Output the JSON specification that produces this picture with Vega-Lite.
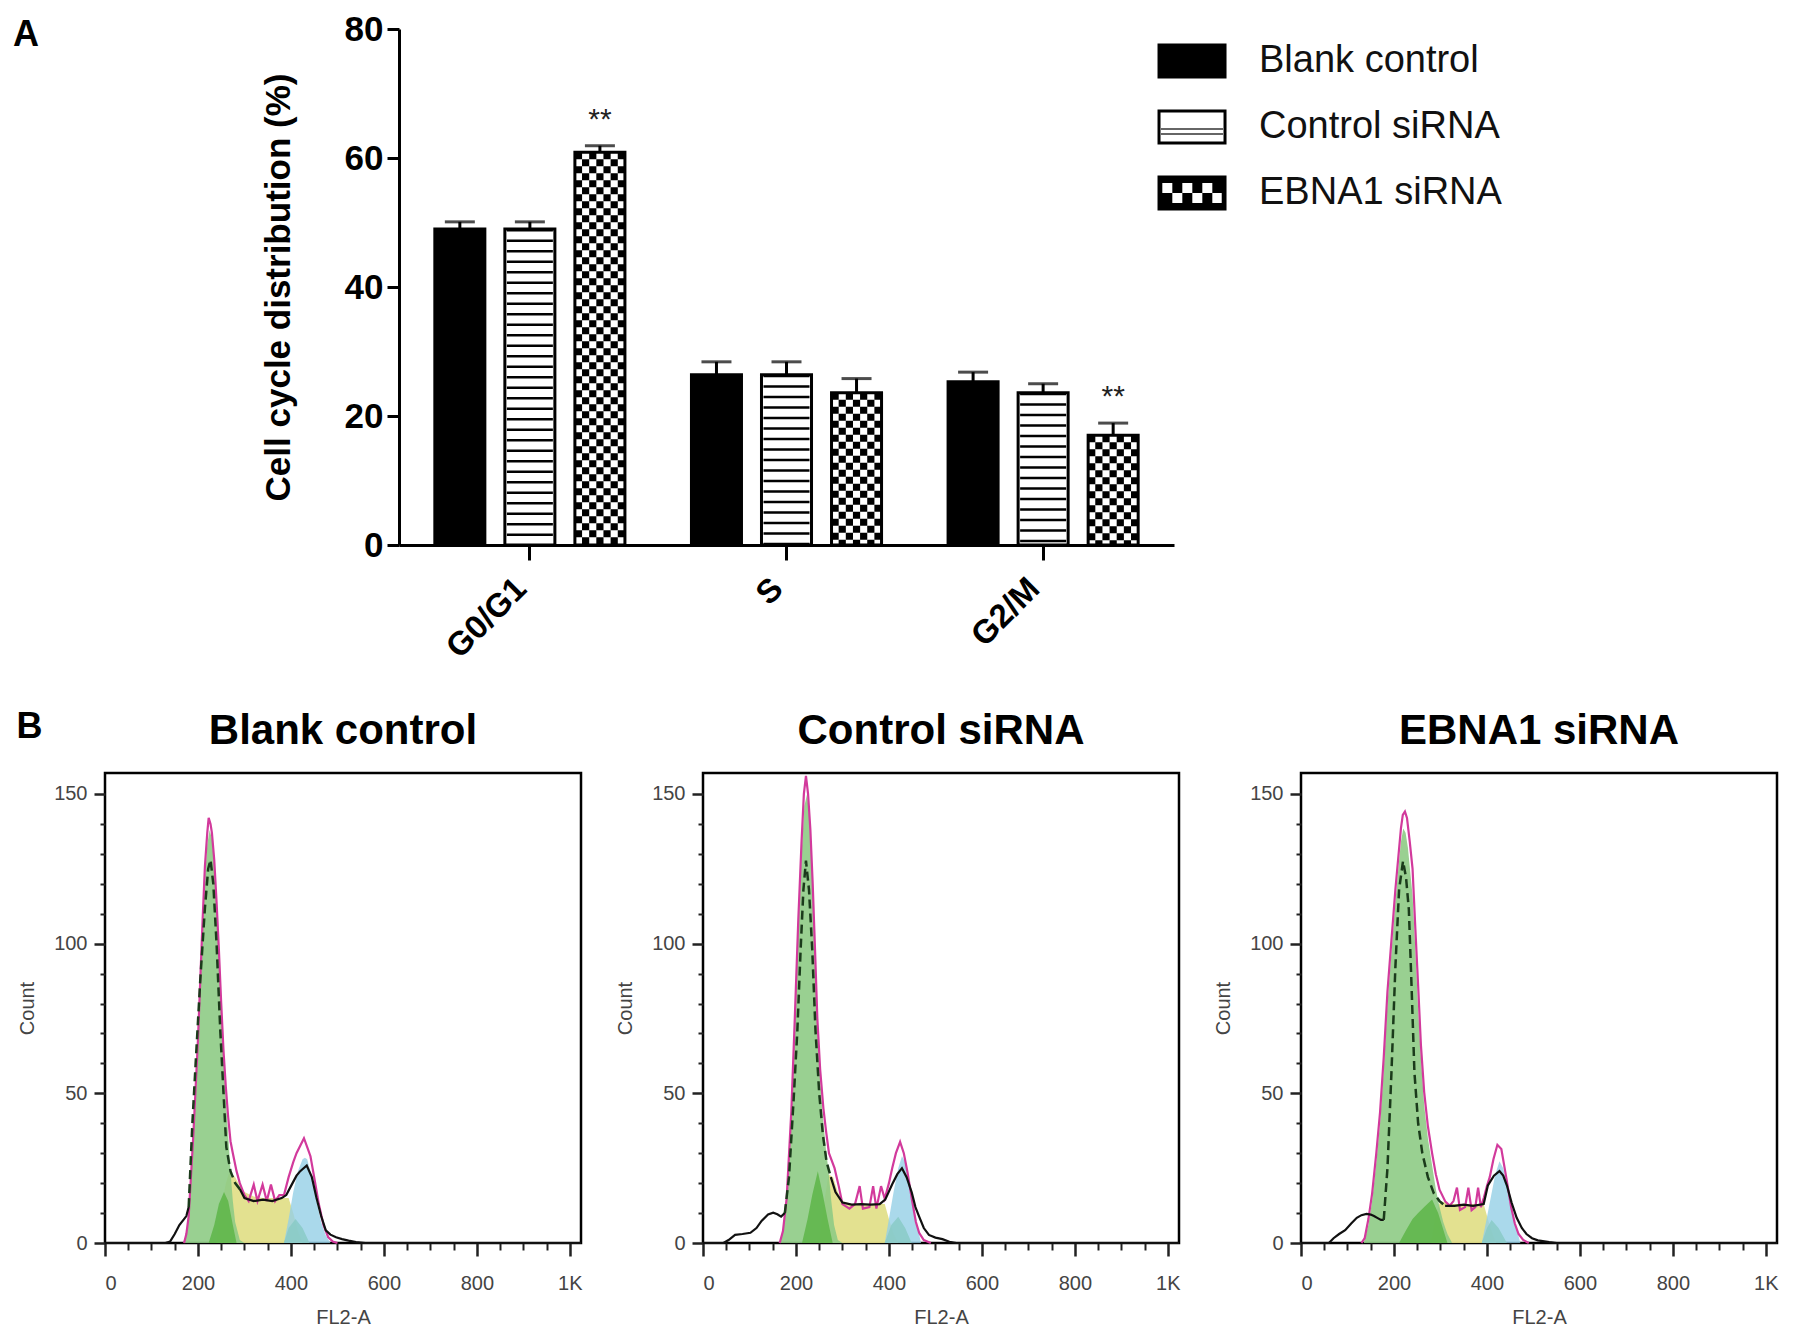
{
  "$schema": "https://vega.github.io/schema/vega-lite/v6.json",
  "background": "white",
  "padding": {"left": 13, "top": 12, "right": 5, "bottom": 5},
  "config": {
    "font": "Liberation Sans",
    "view": {"stroke": "black", "strokeWidth": 2.5},
    "axis": {"labelFont": "Liberation Sans", "titleFont": "Liberation Sans"}
  },
  "spacing": 44,
  "vconcat": [
    {
      "spacing": -50,
      "hconcat": [
        {
          "width": 206,
          "height": 10,
          "view": {"stroke": null},
          "title": {"text": "A", "anchor": "start", "frame": "group", "fontSize": 36, "fontWeight": "bold", "color": "black", "baseline": "alphabetic", "offset": 0, "dx": -92, "dy": 54},
          "data": {"values": [{}]},
          "mark": {"type": "text", "text": ""}
        },
        {
          "width": 775,
          "height": 516,
          "view": {"stroke": null},
          "layer": [
            {
              "data": {
                "values": [
                  {"phase": "G0/G1", "grp": "Blank control", "v": 49.0, "hi": 50.1, "sig": ""},
                  {"phase": "G0/G1", "grp": "Control siRNA", "v": 49.0, "hi": 50.1, "sig": ""},
                  {"phase": "G0/G1", "grp": "EBNA1 siRNA", "v": 60.9, "hi": 61.9, "sig": "**"},
                  {"phase": "S", "grp": "Blank control", "v": 26.4, "hi": 28.4, "sig": ""},
                  {"phase": "S", "grp": "Control siRNA", "v": 26.4, "hi": 28.4, "sig": ""},
                  {"phase": "S", "grp": "EBNA1 siRNA", "v": 23.6, "hi": 25.8, "sig": ""},
                  {"phase": "G2/M", "grp": "Blank control", "v": 25.3, "hi": 26.8, "sig": ""},
                  {"phase": "G2/M", "grp": "Control siRNA", "v": 23.6, "hi": 25.0, "sig": ""},
                  {"phase": "G2/M", "grp": "EBNA1 siRNA", "v": 17.0, "hi": 18.9, "sig": "**"}
                ]
              },
              "encoding": {
                "x": {
                  "field": "phase", "type": "nominal", "sort": ["G0/G1", "S", "G2/M"],
                  "scale": {"paddingInner": 0, "paddingOuter": 0.01},
                  "axis": {"title": null, "labelAngle": -45, "labelFontSize": 33, "labelFontWeight": "bold", "labelColor": "black", "labelPadding": 12, "labelOffset": -20, "tickSize": 15, "tickWidth": 3, "tickColor": "black", "domainColor": "black", "domainWidth": 3}
                },
                "y": {
                  "field": "v", "type": "quantitative",
                  "scale": {"domain": [0, 80], "nice": false},
                  "axis": {"title": "Cell cycle distribution (%)", "titleFontSize": 35, "titleFontWeight": "bold", "titleColor": "black", "titlePadding": 48, "values": [0, 20, 40, 60, 80], "labelFontSize": 35, "labelFontWeight": "bold", "labelColor": "black", "labelPadding": 4, "tickSize": 12, "tickWidth": 3, "tickColor": "black", "domainColor": "black", "domainWidth": 3, "grid": false}
                }
              },
              "layer": [
                {
                  "mark": {"type": "bar", "strokeWidth": 0},
                  "encoding": {
                    "xOffset": {"field": "grp", "type": "nominal", "scale": {"paddingInner": 0.2857, "paddingOuter": 0.475}},
                    "y2": {"datum": 0},
                    "color": {"field": "grp", "type": "nominal", "scale": {"range": ["black", "white", "white"]}, "legend": null}
                  }
                },
                {
                  "transform": [{"filter": "datum.grp == 'Control siRNA'"}],
                  "mark": {"type": "rule", "color": "black", "strokeWidth": 46, "strokeDash": [2.5, 8]},
                  "encoding": {"xOffset": {"field": "grp", "type": "nominal", "scale": {"paddingInner": 0.2857, "paddingOuter": 0.475}}, "y2": {"datum": 0}}
                },
                {
                  "transform": [{"filter": "datum.grp == 'EBNA1 siRNA'"}],
                  "mark": {"type": "rule", "color": "black", "strokeWidth": 7.2, "strokeDash": [7, 7], "strokeDashOffset": 0},
                  "encoding": {"x": {"field": "phase", "type": "nominal", "sort": ["G0/G1", "S", "G2/M"], "bandPosition": 0.6894}, "y2": {"datum": 0}}
                },
                {
                  "transform": [{"filter": "datum.grp == 'EBNA1 siRNA'"}],
                  "mark": {"type": "rule", "color": "black", "strokeWidth": 7.2, "strokeDash": [7, 7], "strokeDashOffset": 7},
                  "encoding": {"x": {"field": "phase", "type": "nominal", "sort": ["G0/G1", "S", "G2/M"], "bandPosition": 0.7172}, "y2": {"datum": 0}}
                },
                {
                  "transform": [{"filter": "datum.grp == 'EBNA1 siRNA'"}],
                  "mark": {"type": "rule", "color": "black", "strokeWidth": 7.2, "strokeDash": [7, 7], "strokeDashOffset": 0},
                  "encoding": {"x": {"field": "phase", "type": "nominal", "sort": ["G0/G1", "S", "G2/M"], "bandPosition": 0.7451}, "y2": {"datum": 0}}
                },
                {
                  "transform": [{"filter": "datum.grp == 'EBNA1 siRNA'"}],
                  "mark": {"type": "rule", "color": "black", "strokeWidth": 7.2, "strokeDash": [7, 7], "strokeDashOffset": 7},
                  "encoding": {"x": {"field": "phase", "type": "nominal", "sort": ["G0/G1", "S", "G2/M"], "bandPosition": 0.7729}, "y2": {"datum": 0}}
                },
                {
                  "transform": [{"filter": "datum.grp == 'EBNA1 siRNA'"}],
                  "mark": {"type": "rule", "color": "black", "strokeWidth": 7.2, "strokeDash": [7, 7], "strokeDashOffset": 0},
                  "encoding": {"x": {"field": "phase", "type": "nominal", "sort": ["G0/G1", "S", "G2/M"], "bandPosition": 0.8007}, "y2": {"datum": 0}}
                },
                {
                  "transform": [{"filter": "datum.grp == 'EBNA1 siRNA'"}],
                  "mark": {"type": "rule", "color": "black", "strokeWidth": 7.2, "strokeDash": [7, 7], "strokeDashOffset": 7},
                  "encoding": {"x": {"field": "phase", "type": "nominal", "sort": ["G0/G1", "S", "G2/M"], "bandPosition": 0.8286}, "y2": {"datum": 0}}
                },
                {
                  "transform": [{"filter": "datum.grp == 'EBNA1 siRNA'"}],
                  "mark": {"type": "rule", "color": "black", "strokeWidth": 7.2, "strokeDash": [7, 7], "strokeDashOffset": 0},
                  "encoding": {"x": {"field": "phase", "type": "nominal", "sort": ["G0/G1", "S", "G2/M"], "bandPosition": 0.8565}, "y2": {"datum": 0}}
                },
                {
                  "mark": {"type": "bar", "filled": false, "stroke": "black", "strokeWidth": 3},
                  "encoding": {"xOffset": {"field": "grp", "type": "nominal", "scale": {"paddingInner": 0.2857, "paddingOuter": 0.475}}, "y2": {"datum": 0}}
                },
                {
                  "mark": {"type": "rule", "color": "black", "strokeWidth": 3},
                  "encoding": {"xOffset": {"field": "grp", "type": "nominal", "scale": {"paddingInner": 0.2857, "paddingOuter": 0.475}}, "y2": {"field": "hi"}}
                },
                {
                  "mark": {"type": "tick", "orient": "horizontal", "size": 30, "thickness": 3, "color": "black"},
                  "encoding": {"xOffset": {"field": "grp", "type": "nominal", "scale": {"paddingInner": 0.2857, "paddingOuter": 0.475}}, "y": {"field": "hi", "type": "quantitative"}}
                },
                {
                  "transform": [{"filter": "datum.sig != ''"}],
                  "mark": {"type": "text", "fontSize": 30, "baseline": "middle", "dy": -26, "color": "#222"},
                  "encoding": {"xOffset": {"field": "grp", "type": "nominal", "scale": {"paddingInner": 0.2857, "paddingOuter": 0.475}}, "y": {"field": "hi", "type": "quantitative"}, "text": {"field": "sig"}}
                }
              ]
            },
            {
              "data": {"values": [{"label": "Blank control"}, {"label": "Control siRNA"}, {"label": "EBNA1 siRNA"}]},
              "encoding": {
                "y": {"field": "label", "type": "nominal", "axis": null, "scale": {"range": [0, 196], "paddingInner": 0.515, "paddingOuter": 0.2424}},
                "x": {"datum": 0, "type": "quantitative", "axis": null, "scale": {"domain": [-11.515, 0.227], "nice": false, "zero": false}}
              },
              "layer": [
                {
                  "mark": {"type": "bar", "stroke": "black", "strokeWidth": 3},
                  "encoding": {
                    "x2": {"datum": 1},
                    "color": {"condition": {"test": "datum.label == 'Control siRNA'", "value": "white"}, "value": "black"}
                  }
                },
                {
                  "transform": [{"filter": "datum.label == 'Control siRNA'"}],
                  "mark": {"type": "rule", "color": "#666", "strokeWidth": 2, "yOffset": 2},
                  "encoding": {"x": {"datum": 0.03, "type": "quantitative"}, "x2": {"datum": 0.97}}
                },
                {
                  "transform": [{"filter": "datum.label == 'Control siRNA'"}],
                  "mark": {"type": "rule", "color": "#666", "strokeWidth": 2, "yOffset": 7},
                  "encoding": {"x": {"datum": 0.03, "type": "quantitative"}, "x2": {"datum": 0.97}}
                },
                {
                  "transform": [{"filter": "datum.label == 'EBNA1 siRNA'"}],
                  "mark": {"type": "rule", "color": "white", "strokeWidth": 10, "strokeDash": [10, 10], "yOffset": -5},
                  "encoding": {"x": {"datum": 0.05, "type": "quantitative"}, "x2": {"datum": 0.95}}
                },
                {
                  "transform": [{"filter": "datum.label == 'EBNA1 siRNA'"}],
                  "mark": {"type": "rule", "color": "white", "strokeWidth": 10, "strokeDash": [10, 10], "strokeDashOffset": 10, "yOffset": 5},
                  "encoding": {"x": {"datum": 0.05, "type": "quantitative"}, "x2": {"datum": 0.95}}
                },
                {
                  "mark": {"type": "text", "align": "left", "baseline": "middle", "dx": 34, "fontSize": 38, "color": "#111"},
                  "encoding": {"x": {"datum": 1, "type": "quantitative"}, "text": {"field": "label"}}
                }
              ]
            }
          ],
          "resolve": {"scale": {"x": "independent", "y": "independent"}, "axis": {"x": "independent", "y": "independent"}}
        }
      ]
    },
    {
      "title": {"text": "B", "anchor": "start", "fontSize": 36, "fontWeight": "bold", "color": "black", "baseline": "alphabetic", "offset": 0, "dx": 0, "dy": 64},
      "data": {
        "values": [
          {"p":1,"s":"g1","x":170,"y":0},{"p":1,"s":"g1","x":175,"y":3},{"p":1,"s":"g1","x":180,"y":8},{"p":1,"s":"g1","x":190,"y":33},{"p":1,"s":"g1","x":200,"y":64},{"p":1,"s":"g1","x":210,"y":104},{"p":1,"s":"g1","x":215,"y":122},{"p":1,"s":"g1","x":220,"y":133},{"p":1,"s":"g1","x":225,"y":138},{"p":1,"s":"g1","x":230,"y":135},{"p":1,"s":"g1","x":235,"y":126},{"p":1,"s":"g1","x":240,"y":112},{"p":1,"s":"g1","x":245,"y":96},{"p":1,"s":"g1","x":250,"y":78},{"p":1,"s":"g1","x":255,"y":62},{"p":1,"s":"g1","x":260,"y":48},{"p":1,"s":"g1","x":265,"y":36},{"p":1,"s":"g1","x":270,"y":24},{"p":1,"s":"g1","x":275,"y":14},{"p":1,"s":"g1","x":280,"y":7},{"p":1,"s":"g1","x":290,"y":1},{"p":1,"s":"g1","x":300,"y":0},
          {"p":1,"s":"ag","x":223,"y":0},{"p":1,"s":"ag","x":235,"y":6},{"p":1,"s":"ag","x":245,"y":13},{"p":1,"s":"ag","x":256,"y":17},{"p":1,"s":"ag","x":265,"y":14},{"p":1,"s":"ag","x":275,"y":6},{"p":1,"s":"ag","x":283,"y":0},{"p":1,"s":"ag","x":385,"y":0},{"p":1,"s":"ag","x":395,"y":5},{"p":1,"s":"ag","x":410,"y":8},{"p":1,"s":"ag","x":425,"y":5},{"p":1,"s":"ag","x":440,"y":0},
          {"p":1,"s":"s","x":240,"y":0},{"p":1,"s":"s","x":250,"y":12},{"p":1,"s":"s","x":260,"y":20},{"p":1,"s":"s","x":268,"y":24},{"p":1,"s":"s","x":280,"y":22},{"p":1,"s":"s","x":290,"y":19},{"p":1,"s":"s","x":300,"y":17},{"p":1,"s":"s","x":320,"y":15.5},{"p":1,"s":"s","x":340,"y":15},{"p":1,"s":"s","x":360,"y":15},{"p":1,"s":"s","x":380,"y":15},{"p":1,"s":"s","x":395,"y":15},{"p":1,"s":"s","x":405,"y":10},{"p":1,"s":"s","x":415,"y":4},{"p":1,"s":"s","x":425,"y":0},
          {"p":1,"s":"g2","x":385,"y":0},{"p":1,"s":"g2","x":395,"y":8},{"p":1,"s":"g2","x":405,"y":17},{"p":1,"s":"g2","x":415,"y":24},{"p":1,"s":"g2","x":425,"y":28},{"p":1,"s":"g2","x":430,"y":28.5},{"p":1,"s":"g2","x":435,"y":28},{"p":1,"s":"g2","x":445,"y":22},{"p":1,"s":"g2","x":455,"y":14},{"p":1,"s":"g2","x":465,"y":7},{"p":1,"s":"g2","x":475,"y":2.5},{"p":1,"s":"g2","x":485,"y":0},
          {"p":1,"s":"fit","x":170,"y":0},{"p":1,"s":"fit","x":175,"y":3},{"p":1,"s":"fit","x":180,"y":9},{"p":1,"s":"fit","x":190,"y":36},{"p":1,"s":"fit","x":200,"y":68},{"p":1,"s":"fit","x":210,"y":108},{"p":1,"s":"fit","x":215,"y":126},{"p":1,"s":"fit","x":220,"y":137},{"p":1,"s":"fit","x":223,"y":142},{"p":1,"s":"fit","x":227,"y":140},{"p":1,"s":"fit","x":230,"y":137},{"p":1,"s":"fit","x":235,"y":128},{"p":1,"s":"fit","x":240,"y":114},{"p":1,"s":"fit","x":245,"y":98},{"p":1,"s":"fit","x":250,"y":80},{"p":1,"s":"fit","x":255,"y":64},{"p":1,"s":"fit","x":260,"y":52},{"p":1,"s":"fit","x":265,"y":42},{"p":1,"s":"fit","x":270,"y":34},{"p":1,"s":"fit","x":275,"y":30},{"p":1,"s":"fit","x":283,"y":24},{"p":1,"s":"fit","x":290,"y":20},{"p":1,"s":"fit","x":300,"y":16},{"p":1,"s":"fit","x":309,"y":14},{"p":1,"s":"fit","x":320,"y":19.5},{"p":1,"s":"fit","x":328,"y":14},{"p":1,"s":"fit","x":339,"y":19.5},{"p":1,"s":"fit","x":348,"y":14},{"p":1,"s":"fit","x":357,"y":19.5},{"p":1,"s":"fit","x":366,"y":14},{"p":1,"s":"fit","x":375,"y":16},{"p":1,"s":"fit","x":385,"y":16},{"p":1,"s":"fit","x":395,"y":22},{"p":1,"s":"fit","x":405,"y":27},{"p":1,"s":"fit","x":412,"y":30},{"p":1,"s":"fit","x":420,"y":32.5},{"p":1,"s":"fit","x":428,"y":35},{"p":1,"s":"fit","x":435,"y":32},{"p":1,"s":"fit","x":442,"y":29},{"p":1,"s":"fit","x":450,"y":22},{"p":1,"s":"fit","x":460,"y":13},{"p":1,"s":"fit","x":470,"y":6},{"p":1,"s":"fit","x":480,"y":2},{"p":1,"s":"fit","x":490,"y":0.5},{"p":1,"s":"fit","x":500,"y":0},
          {"p":1,"s":"rawL","x":0,"y":0},{"p":1,"s":"rawL","x":130,"y":0},{"p":1,"s":"rawL","x":140,"y":0.5},{"p":1,"s":"rawL","x":150,"y":3},{"p":1,"s":"rawL","x":160,"y":6},{"p":1,"s":"rawL","x":170,"y":8},{"p":1,"s":"rawL","x":175,"y":9},{"p":1,"s":"rawL","x":180,"y":12},
          {"p":1,"s":"rawd","x":180,"y":12},{"p":1,"s":"rawd","x":188,"y":40},{"p":1,"s":"rawd","x":195,"y":60},{"p":1,"s":"rawd","x":205,"y":88},{"p":1,"s":"rawd","x":215,"y":112},{"p":1,"s":"rawd","x":222,"y":125},{"p":1,"s":"rawd","x":227,"y":128},{"p":1,"s":"rawd","x":233,"y":120},{"p":1,"s":"rawd","x":240,"y":100},{"p":1,"s":"rawd","x":248,"y":71},{"p":1,"s":"rawd","x":255,"y":50},{"p":1,"s":"rawd","x":261,"y":32},{"p":1,"s":"rawd","x":270,"y":24},{"p":1,"s":"rawd","x":280,"y":20},{"p":1,"s":"rawd","x":290,"y":18},
          {"p":1,"s":"raw","x":290,"y":18},{"p":1,"s":"raw","x":300,"y":15},{"p":1,"s":"raw","x":320,"y":14},{"p":1,"s":"raw","x":340,"y":14.5},{"p":1,"s":"raw","x":360,"y":14},{"p":1,"s":"raw","x":380,"y":15},{"p":1,"s":"raw","x":390,"y":16},{"p":1,"s":"raw","x":400,"y":19},{"p":1,"s":"raw","x":412,"y":22.5},{"p":1,"s":"raw","x":420,"y":24},{"p":1,"s":"raw","x":434,"y":25.9},{"p":1,"s":"raw","x":445,"y":22},{"p":1,"s":"raw","x":455,"y":15},{"p":1,"s":"raw","x":465,"y":9},{"p":1,"s":"raw","x":475,"y":4.2},{"p":1,"s":"raw","x":485,"y":2.8},{"p":1,"s":"raw","x":497,"y":1.9},{"p":1,"s":"raw","x":510,"y":1.3},{"p":1,"s":"raw","x":524,"y":0.8},{"p":1,"s":"raw","x":540,"y":0.3},{"p":1,"s":"raw","x":560,"y":0},{"p":1,"s":"raw","x":1024,"y":0},

          {"p":2,"s":"g1","x":165,"y":0},{"p":2,"s":"g1","x":172,"y":4},{"p":2,"s":"g1","x":180,"y":14},{"p":2,"s":"g1","x":190,"y":42},{"p":2,"s":"g1","x":197,"y":71},{"p":2,"s":"g1","x":205,"y":105},{"p":2,"s":"g1","x":212,"y":130},{"p":2,"s":"g1","x":218,"y":146},{"p":2,"s":"g1","x":224,"y":150},{"p":2,"s":"g1","x":230,"y":140},{"p":2,"s":"g1","x":236,"y":118},{"p":2,"s":"g1","x":241,"y":95},{"p":2,"s":"g1","x":246,"y":71},{"p":2,"s":"g1","x":252,"y":55},{"p":2,"s":"g1","x":258,"y":42},{"p":2,"s":"g1","x":264,"y":32},{"p":2,"s":"g1","x":270,"y":24},{"p":2,"s":"g1","x":276,"y":14},{"p":2,"s":"g1","x":282,"y":6},{"p":2,"s":"g1","x":290,"y":1},{"p":2,"s":"g1","x":300,"y":0},
          {"p":2,"s":"ag","x":213,"y":0},{"p":2,"s":"ag","x":225,"y":8},{"p":2,"s":"ag","x":235,"y":16},{"p":2,"s":"ag","x":247,"y":24},{"p":2,"s":"ag","x":258,"y":16},{"p":2,"s":"ag","x":268,"y":8},{"p":2,"s":"ag","x":279,"y":0},{"p":2,"s":"ag","x":391,"y":0},{"p":2,"s":"ag","x":405,"y":6},{"p":2,"s":"ag","x":420,"y":8.8},{"p":2,"s":"ag","x":435,"y":5},{"p":2,"s":"ag","x":449,"y":0},
          {"p":2,"s":"s","x":250,"y":0},{"p":2,"s":"s","x":262,"y":15},{"p":2,"s":"s","x":270,"y":23},{"p":2,"s":"s","x":280,"y":22},{"p":2,"s":"s","x":290,"y":17},{"p":2,"s":"s","x":300,"y":14},{"p":2,"s":"s","x":320,"y":13},{"p":2,"s":"s","x":340,"y":13},{"p":2,"s":"s","x":360,"y":13},{"p":2,"s":"s","x":380,"y":13},{"p":2,"s":"s","x":391,"y":13},{"p":2,"s":"s","x":400,"y":8},{"p":2,"s":"s","x":410,"y":3},{"p":2,"s":"s","x":420,"y":0},
          {"p":2,"s":"g2","x":391,"y":0},{"p":2,"s":"g2","x":400,"y":8},{"p":2,"s":"g2","x":410,"y":17},{"p":2,"s":"g2","x":420,"y":25},{"p":2,"s":"g2","x":428,"y":29},{"p":2,"s":"g2","x":435,"y":27},{"p":2,"s":"g2","x":445,"y":20},{"p":2,"s":"g2","x":455,"y":11},{"p":2,"s":"g2","x":462,"y":5},{"p":2,"s":"g2","x":469,"y":0},
          {"p":2,"s":"fit","x":165,"y":0},{"p":2,"s":"fit","x":172,"y":4},{"p":2,"s":"fit","x":180,"y":15},{"p":2,"s":"fit","x":190,"y":44},{"p":2,"s":"fit","x":197,"y":73},{"p":2,"s":"fit","x":205,"y":108},{"p":2,"s":"fit","x":212,"y":134},{"p":2,"s":"fit","x":217,"y":150},{"p":2,"s":"fit","x":221.5,"y":156},{"p":2,"s":"fit","x":226,"y":150},{"p":2,"s":"fit","x":231,"y":138},{"p":2,"s":"fit","x":236,"y":120},{"p":2,"s":"fit","x":241,"y":98},{"p":2,"s":"fit","x":246,"y":75},{"p":2,"s":"fit","x":252,"y":58},{"p":2,"s":"fit","x":259,"y":45},{"p":2,"s":"fit","x":265,"y":37},{"p":2,"s":"fit","x":271,"y":30},{"p":2,"s":"fit","x":283,"y":25},{"p":2,"s":"fit","x":292,"y":19},{"p":2,"s":"fit","x":300,"y":13},{"p":2,"s":"fit","x":315,"y":11.5},{"p":2,"s":"fit","x":327,"y":13},{"p":2,"s":"fit","x":337,"y":19},{"p":2,"s":"fit","x":344,"y":11.5},{"p":2,"s":"fit","x":358,"y":12},{"p":2,"s":"fit","x":366,"y":19},{"p":2,"s":"fit","x":373,"y":11.5},{"p":2,"s":"fit","x":383,"y":19},{"p":2,"s":"fit","x":391,"y":14.8},{"p":2,"s":"fit","x":400,"y":20},{"p":2,"s":"fit","x":407,"y":25},{"p":2,"s":"fit","x":415,"y":30},{"p":2,"s":"fit","x":424,"y":33.8},{"p":2,"s":"fit","x":432,"y":30},{"p":2,"s":"fit","x":440,"y":23.6},{"p":2,"s":"fit","x":450,"y":14},{"p":2,"s":"fit","x":458,"y":7},{"p":2,"s":"fit","x":465,"y":3.4},{"p":2,"s":"fit","x":475,"y":1},{"p":2,"s":"fit","x":490,"y":0},
          {"p":2,"s":"rawL","x":0,"y":0},{"p":2,"s":"rawL","x":44,"y":0},{"p":2,"s":"rawL","x":55,"y":1},{"p":2,"s":"rawL","x":69,"y":2.7},{"p":2,"s":"rawL","x":85,"y":3},{"p":2,"s":"rawL","x":102,"y":3.4},{"p":2,"s":"rawL","x":115,"y":5},{"p":2,"s":"rawL","x":126,"y":7.4},{"p":2,"s":"rawL","x":140,"y":9.5},{"p":2,"s":"rawL","x":151,"y":10.1},{"p":2,"s":"rawL","x":160,"y":9.6},{"p":2,"s":"rawL","x":168,"y":8.8},{"p":2,"s":"rawL","x":176,"y":10},
          {"p":2,"s":"rawd","x":176,"y":10},{"p":2,"s":"rawd","x":185,"y":22},{"p":2,"s":"rawd","x":195,"y":48},{"p":2,"s":"rawd","x":203,"y":71},{"p":2,"s":"rawd","x":210,"y":98},{"p":2,"s":"rawd","x":216,"y":118},{"p":2,"s":"rawd","x":221.5,"y":127.7},{"p":2,"s":"rawd","x":228,"y":118},{"p":2,"s":"rawd","x":235,"y":98},{"p":2,"s":"rawd","x":242,"y":71},{"p":2,"s":"rawd","x":250,"y":50},{"p":2,"s":"rawd","x":258,"y":36},{"p":2,"s":"rawd","x":266,"y":27},{"p":2,"s":"rawd","x":275,"y":22},
          {"p":2,"s":"raw","x":275,"y":22},{"p":2,"s":"raw","x":285,"y":17},{"p":2,"s":"raw","x":300,"y":13.5},{"p":2,"s":"raw","x":320,"y":12.8},{"p":2,"s":"raw","x":340,"y":13},{"p":2,"s":"raw","x":360,"y":12.8},{"p":2,"s":"raw","x":380,"y":13},{"p":2,"s":"raw","x":392,"y":14.5},{"p":2,"s":"raw","x":407,"y":19.6},{"p":2,"s":"raw","x":418,"y":23},{"p":2,"s":"raw","x":428,"y":25},{"p":2,"s":"raw","x":438,"y":22},{"p":2,"s":"raw","x":449,"y":16.9},{"p":2,"s":"raw","x":457,"y":12},{"p":2,"s":"raw","x":465,"y":8.8},{"p":2,"s":"raw","x":475,"y":5},{"p":2,"s":"raw","x":486,"y":2.7},{"p":2,"s":"raw","x":500,"y":1.8},{"p":2,"s":"raw","x":515,"y":1.3},{"p":2,"s":"raw","x":530,"y":0.4},{"p":2,"s":"raw","x":545,"y":0},{"p":2,"s":"raw","x":1024,"y":0},

          {"p":3,"s":"g1","x":135,"y":0},{"p":3,"s":"g1","x":145,"y":6},{"p":3,"s":"g1","x":153,"y":14},{"p":3,"s":"g1","x":162,"y":27},{"p":3,"s":"g1","x":170,"y":40},{"p":3,"s":"g1","x":178,"y":58},{"p":3,"s":"g1","x":186,"y":80},{"p":3,"s":"g1","x":195,"y":98},{"p":3,"s":"g1","x":203,"y":114},{"p":3,"s":"g1","x":210,"y":126},{"p":3,"s":"g1","x":215,"y":134},{"p":3,"s":"g1","x":220,"y":138.5},{"p":3,"s":"g1","x":225,"y":137},{"p":3,"s":"g1","x":230,"y":132},{"p":3,"s":"g1","x":235,"y":124},{"p":3,"s":"g1","x":240,"y":116},{"p":3,"s":"g1","x":246,"y":98},{"p":3,"s":"g1","x":252,"y":78},{"p":3,"s":"g1","x":258,"y":62},{"p":3,"s":"g1","x":265,"y":46},{"p":3,"s":"g1","x":273,"y":35},{"p":3,"s":"g1","x":282,"y":26},{"p":3,"s":"g1","x":290,"y":18},{"p":3,"s":"g1","x":298,"y":12},{"p":3,"s":"g1","x":306,"y":7},{"p":3,"s":"g1","x":315,"y":3},{"p":3,"s":"g1","x":325,"y":0},
          {"p":3,"s":"ag","x":211,"y":0},{"p":3,"s":"ag","x":225,"y":4},{"p":3,"s":"ag","x":240,"y":8},{"p":3,"s":"ag","x":252,"y":10},{"p":3,"s":"ag","x":265,"y":12},{"p":3,"s":"ag","x":282,"y":14.5},{"p":3,"s":"ag","x":295,"y":10},{"p":3,"s":"ag","x":305,"y":5},{"p":3,"s":"ag","x":315,"y":0},{"p":3,"s":"ag","x":389,"y":0},{"p":3,"s":"ag","x":400,"y":5},{"p":3,"s":"ag","x":410,"y":7.7},{"p":3,"s":"ag","x":425,"y":5},{"p":3,"s":"ag","x":443,"y":0},
          {"p":3,"s":"s","x":280,"y":0},{"p":3,"s":"s","x":290,"y":10},{"p":3,"s":"s","x":300,"y":14},{"p":3,"s":"s","x":320,"y":13},{"p":3,"s":"s","x":340,"y":13},{"p":3,"s":"s","x":360,"y":13},{"p":3,"s":"s","x":380,"y":13},{"p":3,"s":"s","x":393,"y":13},{"p":3,"s":"s","x":402,"y":8},{"p":3,"s":"s","x":412,"y":3},{"p":3,"s":"s","x":420,"y":0},
          {"p":3,"s":"g2","x":389,"y":0},{"p":3,"s":"g2","x":398,"y":7},{"p":3,"s":"g2","x":408,"y":15},{"p":3,"s":"g2","x":418,"y":23},{"p":3,"s":"g2","x":427,"y":27.3},{"p":3,"s":"g2","x":435,"y":25},{"p":3,"s":"g2","x":445,"y":18},{"p":3,"s":"g2","x":455,"y":10},{"p":3,"s":"g2","x":463,"y":5},{"p":3,"s":"g2","x":472,"y":0},
          {"p":3,"s":"fit","x":130,"y":0},{"p":3,"s":"fit","x":137,"y":1.6},{"p":3,"s":"fit","x":145,"y":8},{"p":3,"s":"fit","x":153,"y":16.5},{"p":3,"s":"fit","x":162,"y":30},{"p":3,"s":"fit","x":170,"y":43.6},{"p":3,"s":"fit","x":178,"y":62},{"p":3,"s":"fit","x":186,"y":84},{"p":3,"s":"fit","x":195,"y":102},{"p":3,"s":"fit","x":203,"y":118},{"p":3,"s":"fit","x":210,"y":130},{"p":3,"s":"fit","x":215,"y":138.5},{"p":3,"s":"fit","x":219,"y":143},{"p":3,"s":"fit","x":223.6,"y":144.1},{"p":3,"s":"fit","x":228,"y":142},{"p":3,"s":"fit","x":234,"y":134},{"p":3,"s":"fit","x":240,"y":125},{"p":3,"s":"fit","x":246,"y":105},{"p":3,"s":"fit","x":252.6,"y":84},{"p":3,"s":"fit","x":258,"y":66},{"p":3,"s":"fit","x":265,"y":50.4},{"p":3,"s":"fit","x":273,"y":39},{"p":3,"s":"fit","x":282,"y":30},{"p":3,"s":"fit","x":290,"y":23},{"p":3,"s":"fit","x":298,"y":17.8},{"p":3,"s":"fit","x":310.6,"y":13.8},{"p":3,"s":"fit","x":320,"y":12.5},{"p":3,"s":"fit","x":328,"y":14},{"p":3,"s":"fit","x":335.5,"y":18.5},{"p":3,"s":"fit","x":342,"y":11},{"p":3,"s":"fit","x":353,"y":12},{"p":3,"s":"fit","x":360,"y":18.5},{"p":3,"s":"fit","x":367,"y":11},{"p":3,"s":"fit","x":375,"y":12},{"p":3,"s":"fit","x":381,"y":18.5},{"p":3,"s":"fit","x":387,"y":12},{"p":3,"s":"fit","x":393.5,"y":15.2},{"p":3,"s":"fit","x":400,"y":19},{"p":3,"s":"fit","x":406,"y":22},{"p":3,"s":"fit","x":414,"y":28},{"p":3,"s":"fit","x":422.5,"y":32.8},{"p":3,"s":"fit","x":431,"y":31.4},{"p":3,"s":"fit","x":437,"y":26},{"p":3,"s":"fit","x":443,"y":20.6},{"p":3,"s":"fit","x":452,"y":12},{"p":3,"s":"fit","x":460,"y":6.5},{"p":3,"s":"fit","x":468,"y":3},{"p":3,"s":"fit","x":478,"y":1},{"p":3,"s":"fit","x":490,"y":0},
          {"p":3,"s":"rawL","x":0,"y":0},{"p":3,"s":"rawL","x":60,"y":0},{"p":3,"s":"rawL","x":70,"y":1.6},{"p":3,"s":"rawL","x":82,"y":3},{"p":3,"s":"rawL","x":95,"y":4.3},{"p":3,"s":"rawL","x":108,"y":6.5},{"p":3,"s":"rawL","x":120,"y":8.4},{"p":3,"s":"rawL","x":130,"y":9.3},{"p":3,"s":"rawL","x":141,"y":9.7},{"p":3,"s":"rawL","x":150,"y":9.5},{"p":3,"s":"rawL","x":157,"y":9},{"p":3,"s":"rawL","x":165,"y":8.3},{"p":3,"s":"rawL","x":172,"y":7.7},{"p":3,"s":"rawL","x":178,"y":7.7},
          {"p":3,"s":"rawd","x":178,"y":7.7},{"p":3,"s":"rawd","x":186,"y":25},{"p":3,"s":"rawd","x":194.6,"y":57},{"p":3,"s":"rawd","x":203,"y":92},{"p":3,"s":"rawd","x":211,"y":118},{"p":3,"s":"rawd","x":219.5,"y":127.6},{"p":3,"s":"rawd","x":226,"y":122},{"p":3,"s":"rawd","x":232,"y":111.4},{"p":3,"s":"rawd","x":238,"y":85},{"p":3,"s":"rawd","x":244,"y":57},{"p":3,"s":"rawd","x":252,"y":40},{"p":3,"s":"rawd","x":261,"y":30},{"p":3,"s":"rawd","x":273,"y":22},{"p":3,"s":"rawd","x":286,"y":16.5},{"p":3,"s":"rawd","x":298,"y":14},{"p":3,"s":"rawd","x":310,"y":12.4},
          {"p":3,"s":"raw","x":310,"y":12.4},{"p":3,"s":"raw","x":330,"y":12.4},{"p":3,"s":"raw","x":350,"y":12.8},{"p":3,"s":"raw","x":370,"y":12.4},{"p":3,"s":"raw","x":393,"y":13},{"p":3,"s":"raw","x":402,"y":19.2},{"p":3,"s":"raw","x":415,"y":22.5},{"p":3,"s":"raw","x":427,"y":24},{"p":3,"s":"raw","x":435,"y":22.5},{"p":3,"s":"raw","x":443,"y":19.2},{"p":3,"s":"raw","x":453,"y":13.5},{"p":3,"s":"raw","x":464,"y":8.4},{"p":3,"s":"raw","x":475,"y":5},{"p":3,"s":"raw","x":485,"y":3},{"p":3,"s":"raw","x":497,"y":1.6},{"p":3,"s":"raw","x":509.5,"y":0.9},{"p":3,"s":"raw","x":534,"y":0.3},{"p":3,"s":"raw","x":550,"y":0},{"p":3,"s":"raw","x":1024,"y":0}
        ]
      },
      "facet": {
        "column": {
          "field": "p", "type": "ordinal",
          "header": {"title": null, "labelFontSize": 42, "labelFontWeight": "bold", "labelColor": "black", "labelPadding": 17, "labelExpr": "datum.value == 1 ? 'Blank control' : datum.value == 2 ? 'Control siRNA' : 'EBNA1 siRNA'"}
        }
      },
      "spacing": {"column": 27},
      "resolve": {"axis": {"x": "independent", "y": "independent"}},
      "spec": {
        "width": 476,
        "height": 470,
        "layer": [
          {
            "encoding": {
              "x": {
                "field": "x", "type": "quantitative", "scale": {"domain": [0, 1024], "nice": false},
                "axis": {"title": "FL2-A", "values": [0, 200, 400, 600, 800, 1000], "labelExpr": "datum.value == 1000 ? '1K' : datum.label", "labelFontSize": 20, "labelColor": "#444", "labelPadding": 17, "tickSize": 13, "tickWidth": 2.5, "tickColor": "#222", "domain": false, "grid": false, "titleFontSize": 20, "titleColor": "#444", "titleFontWeight": "normal", "titlePadding": 14}
              },
              "y": {
                "field": "y", "type": "quantitative", "scale": {"domain": [0, 157], "nice": false},
                "axis": {"title": "Count", "values": [0, 50, 100, 150], "labelFontSize": 20, "labelColor": "#444", "labelPadding": 7, "tickSize": 11, "tickWidth": 2.5, "tickColor": "#222", "domain": false, "grid": false, "titleFontSize": 20, "titleColor": "#444", "titleFontWeight": "normal", "titlePadding": 16}
              }
            },
            "layer": [
              {"transform": [{"filter": "datum.s == 's'"}], "mark": {"type": "area", "color": "#e2df8a", "opacity": 0.95}},
              {"transform": [{"filter": "datum.s == 'g1'"}], "mark": {"type": "area", "color": "#8ecb85", "opacity": 0.9}},
              {"transform": [{"filter": "datum.s == 'ag'"}], "mark": {"type": "area", "color": "#5db548", "opacity": 0.85}},
              {"transform": [{"filter": "datum.s == 'g2'"}], "mark": {"type": "area", "color": "#95cfe6", "opacity": 0.8}},
              {"transform": [{"filter": "datum.s == 'fit'"}], "mark": {"type": "line", "color": "#d23a9c", "strokeWidth": 2.2}},
              {"transform": [{"filter": "datum.s == 'rawL' || datum.s == 'raw'"}], "mark": {"type": "line", "color": "#111", "strokeWidth": 2.2}, "encoding": {"detail": {"field": "s"}}},
              {"transform": [{"filter": "datum.s == 'rawd'"}], "mark": {"type": "line", "color": "#1b3b1b", "strokeWidth": 2.5, "strokeDash": [9, 5]}}
            ]
          },
          {
            "transform": [{"filter": "datum.s == 'rawL'"}],
            "mark": {"type": "point", "opacity": 0},
            "encoding": {
              "x": {
                "field": "x", "type": "quantitative", "scale": {"domain": [0, 1024], "nice": false},
                "axis": {"orient": "bottom", "title": null, "labels": false, "domain": false, "grid": false, "values": [50, 100, 150, 250, 300, 350, 450, 500, 550, 650, 700, 750, 850, 900, 950], "tickSize": 7, "tickWidth": 2, "tickColor": "#222"}
              },
              "y": {
                "field": "y", "type": "quantitative", "scale": {"domain": [0, 157], "nice": false},
                "axis": {"orient": "left", "title": null, "labels": false, "domain": false, "grid": false, "values": [10, 20, 30, 40, 60, 70, 80, 90, 110, 120, 130, 140], "tickSize": 5, "tickWidth": 2, "tickColor": "#222"}
              }
            }
          }
        ],
        "resolve": {"axis": {"x": "independent", "y": "independent"}}
      }
    }
  ]
}
